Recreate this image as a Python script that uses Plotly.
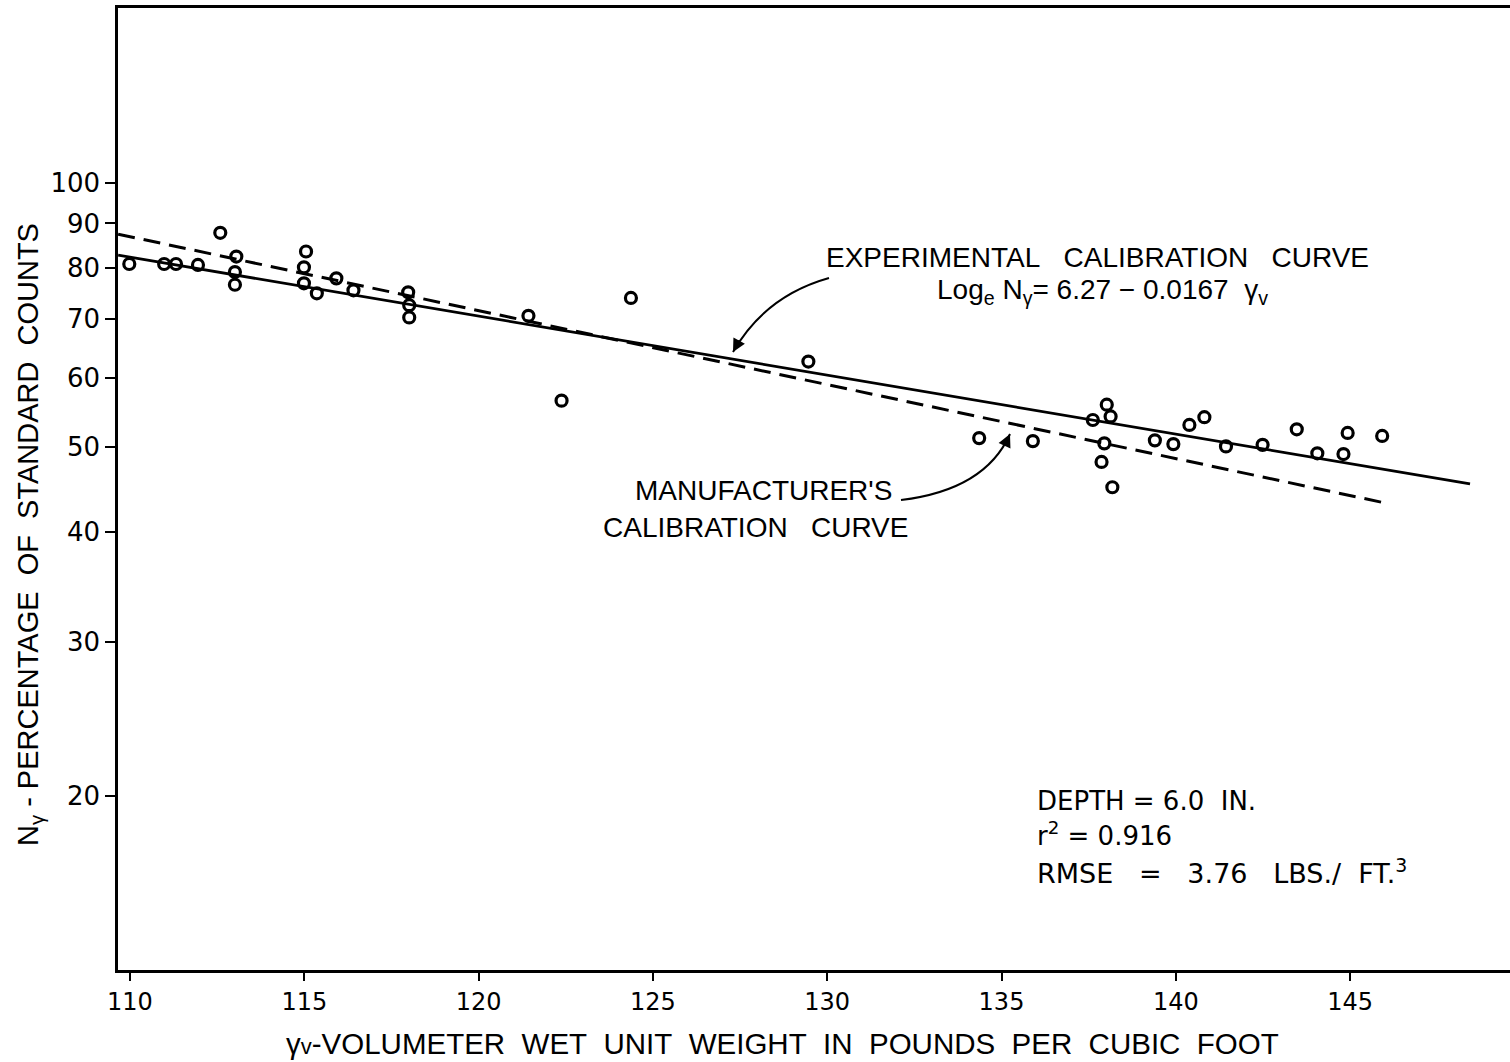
import plotly.graph_objects as go

# ---- figure geometry (pixels) ----
W, H = 1510, 1062
M_L, M_R, M_T, M_B = 118, 0, 8, 92

# ---- observed calibration points: volumeter wet unit weight vs % of standard counts ----
unit_weight = [
    109.98, 110.98, 111.32, 111.95, 112.59, 113.05, 113.01, 113.01,
    115.05, 114.99, 114.99, 115.36, 115.92, 116.41, 117.98, 118.01,
    118.01, 121.43, 124.37, 122.38, 129.46,
    134.36, 135.90, 137.62, 138.02, 138.13, 137.95, 137.87, 138.18,
    139.40, 139.93, 140.39, 140.82, 141.44, 142.49, 143.47, 144.06,
    144.81, 144.93, 145.92,
]
pct_counts = [
    80.9, 80.9, 80.9, 80.7, 87.8, 82.5, 79.2, 76.6,
    83.6, 80.2, 76.9, 74.9, 77.9, 75.5, 75.1, 72.6,
    70.3, 70.6, 74.0, 56.5, 62.6,
    51.2, 50.8, 53.7, 55.9, 54.2, 50.5, 48.1, 45.0,
    50.9, 50.4, 53.0, 54.1, 50.1, 50.3, 52.4, 49.2,
    49.1, 51.9, 51.5,
]

# ---- calibration curves (straight on the semi-log grid) ----
exp_curve_x = [109.66, 148.44]
exp_curve_n = [82.8, 45.4]
mfr_curve_x = [109.66, 146.10]
mfr_curve_n = [87.5, 43.1]

# ---- axis ticks ----
x_ticks = [110, 115, 120, 125, 130, 135, 140, 145]
y_ticks = [20, 30, 40, 50, 60, 70, 80, 90, 100]
x_range = [109.656, 149.587]
y_range_log = [1.10245, 2.2]

TEXT_FONT = "Liberation Sans, Arial, sans-serif"
WIDE_FONT = "DejaVu Sans, sans-serif"
INK = "black"


def sp(s):
    """keep runs of spaces visible in svg text"""
    return s.replace(" ", "\u00a0")


def px(x):
    return (x - M_L) / (W - M_L - M_R)


def py(y):
    return (H - M_B - y) / (H - M_B - M_T)


fig = go.Figure()

fig.add_trace(go.Scatter(
    x=exp_curve_x, y=exp_curve_n, mode="lines",
    line=dict(color=INK, width=2.8), hoverinfo="skip", showlegend=False,
))
fig.add_trace(go.Scatter(
    x=mfr_curve_x, y=mfr_curve_n, mode="lines",
    line=dict(color=INK, width=3, dash="17px,9px"), hoverinfo="skip", showlegend=False,
))
fig.add_trace(go.Scatter(
    x=unit_weight, y=pct_counts, mode="markers",
    marker=dict(symbol="circle-open", size=11, color=INK, line=dict(width=3.2, color=INK)),
    showlegend=False,
))

# ---- curved leader arrows ----
def bezier_arrow(p0, c, p2, tail_dx, tail_dy):
    fig.add_shape(
        type="path", xref="paper", yref="paper",
        path=f"M {px(p0[0])},{py(p0[1])} Q {px(c[0])},{py(c[1])} {px(p2[0])},{py(p2[1])}",
        line=dict(color=INK, width=2),
    )
    fig.add_annotation(
        x=px(p2[0]), y=py(p2[1]), xref="paper", yref="paper", text="",
        showarrow=True, ax=tail_dx, ay=tail_dy, arrowhead=2, arrowsize=1.3,
        arrowwidth=2, arrowcolor=INK, standoff=0,
    )


bezier_arrow((829, 278), (765, 296), (733, 352), 7, -13)
bezier_arrow((901, 500), (985, 490), (1010, 434), -6, 13)

# ---- text labels ----
def label(x, y, text, size, anchor="center", family=TEXT_FONT):
    fig.add_annotation(
        x=px(x), y=py(y), xref="paper", yref="paper", text=text,
        showarrow=False, xanchor=anchor, yanchor="middle",
        font=dict(family=family, size=size, color=INK),
    )


label(1097, 257, sp("EXPERIMENTAL   CALIBRATION   CURVE"), 28)
label(1102, 291, sp("Log<sub>e</sub> N<sub>γ</sub>= 6.27 − 0.0167  γ<sub>v</sub>"), 28)
label(763, 491, sp("MANUFACTURER'S"), 28)
label(755, 527, sp("CALIBRATION   CURVE"), 28)
label(1035, 801, sp("DEPTH = 6.0  IN."), 26, "left", WIDE_FONT)
label(1035, 834, sp("r<sup>2</sup> = 0.916"), 26, "left", WIDE_FONT)
label(1035, 871, sp("RMSE   =   3.76   LBS./  FT.<sup>3</sup>"), 27, "left", WIDE_FONT)

# axis titles
x_title = ("γ<span style='font-size:22px'>v</span>"
           + sp("-VOLUMETER  WET  UNIT  WEIGHT  IN  POUNDS  PER  CUBIC  FOOT"))
fig.add_annotation(
    x=px(782), y=-(1043 - (H - M_B)) / (H - M_B - M_T), xref="paper", yref="paper",
    text=x_title,
    showarrow=False, xanchor="center", yanchor="middle",
    font=dict(family=TEXT_FONT, size=29.5, color=INK),
)
fig.add_annotation(
    x=-(M_L - 30) / (W - M_L - M_R), y=py(535), xref="paper", yref="paper",
    text=sp("N<sub>γ</sub> - PERCENTAGE  OF  STANDARD  COUNTS"), textangle=-90,
    showarrow=False, xanchor="center", yanchor="middle",
    font=dict(family=TEXT_FONT, size=29, color=INK),
)

fig.update_xaxes(
    range=x_range, tickvals=x_ticks, ticktext=[str(v) for v in x_ticks],
    ticks="outside", ticklen=8, tickwidth=2, tickcolor=INK,
    showline=True, linewidth=2.5, linecolor=INK, mirror=True,
    showgrid=False, zeroline=False,
    tickfont=dict(family=WIDE_FONT, size=24, color=INK),
)
fig.update_yaxes(
    type="log", range=y_range_log, tickvals=y_ticks, ticktext=[str(v) for v in y_ticks],
    ticks="outside", ticklen=10, tickwidth=2, tickcolor=INK,
    showline=True, linewidth=2.5, linecolor=INK,
    showgrid=False, zeroline=False,
    tickfont=dict(family=WIDE_FONT, size=26, color=INK),
)

fig.update_layout(
    width=W, height=H,
    margin=dict(l=M_L, r=M_R, t=M_T, b=M_B, pad=0),
    paper_bgcolor="white", plot_bgcolor="white",
    showlegend=False,
)

fig.write_html("out.html", include_plotlyjs=True)
